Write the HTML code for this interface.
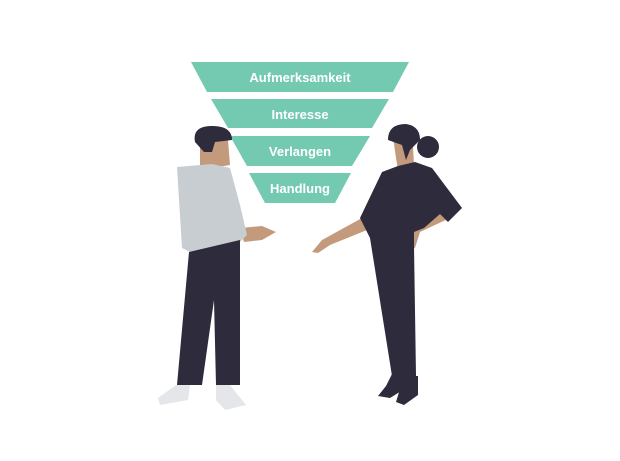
<!DOCTYPE html>
<html><head><style>html,body{margin:0;padding:0;background:#fff;width:620px;height:461px;overflow:hidden}</style></head>
<body>
<svg width="620" height="461" viewBox="0 0 620 461" xmlns="http://www.w3.org/2000/svg">
<g fill="#74c9b1">
<polygon points="191,62 409,62 393,92 207,92"/>
<polygon points="211,99 389,99 372,128 228,128"/>
<polygon points="230,136 370,136 352,166 247,166"/>
<polygon points="249,173 351,173 335,203 265,203"/>
</g>
<g fill="#fff" font-family="Liberation Sans, sans-serif" font-weight="bold" font-size="13" text-anchor="middle">
<text x="300" y="82">Aufmerksamkeit</text>
<text x="300" y="119">Interesse</text>
<text x="300" y="156">Verlangen</text>
<text x="300" y="193">Handlung</text>
</g>
<!-- man -->
<polygon points="200,140 228,140 230,165 212,168 205,175 200,165" fill="#c49a7c"/>
<polygon points="240,228 262,226 276,232 262,240 244,242" fill="#c49a7c"/>
<path d="M195,142 Q192,126 212,126 Q232,126 232,140 L215,142 L212,152 L204,152 Z" fill="#2d2b3c"/>
<polygon points="177,167 212,164 230,168 240,205 247,235 240,242 190,252 182,248" fill="#c8cdd1"/>
<polygon points="189,252 240,240 240,385 216,385 214,300 202,385 177,385" fill="#2d2b3c"/>
<polygon points="176,385 190,385 188,400 160,405 158,398" fill="#e5e6ea"/>
<polygon points="216,385 230,385 246,405 225,410 216,400" fill="#e5e6ea"/>
<!-- woman -->
<polygon points="392,130 412,128 414,165 398,170 396,158" fill="#c49a7c"/>
<polygon points="362,218 372,228 330,245 318,253 312,252 322,240" fill="#c49a7c"/>
<polygon points="440,210 450,218 420,232 415,248 408,246 410,230" fill="#c49a7c"/>
<circle cx="428" cy="147" r="11" fill="#2d2b3c"/>
<path d="M388,140 Q388,124 406,124 Q420,126 420,140 L410,150 L406,160 L402,145 Z" fill="#2d2b3c"/>
<polygon points="382,172 398,166 415,162 432,168 462,208 448,222 440,214 424,228 414,232 414,246 416,376 392,376 370,238 364,226 360,218" fill="#2d2b3c"/>
<polygon points="392,374 406,374 406,388 390,398 378,396 386,386" fill="#2d2b3c"/>
<polygon points="404,376 418,376 418,395 404,405 396,402" fill="#2d2b3c"/>
</svg>
</body></html>
